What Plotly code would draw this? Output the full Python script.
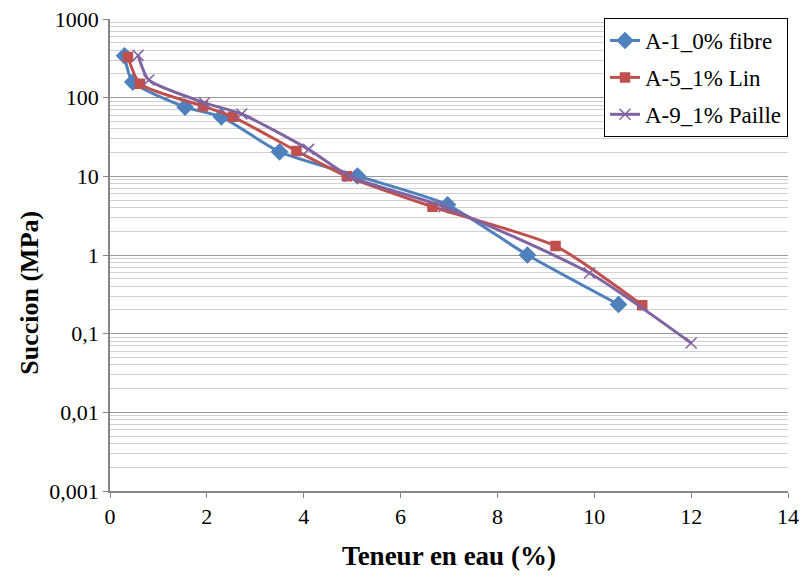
import plotly.graph_objects as go

# Teneur en eau (%) / Succion (MPa)
a1_x = [0.30, 0.47, 1.55, 2.30, 3.50, 5.11, 6.97, 8.62, 10.50]
a1_y = [340, 158, 76, 57, 20.5, 10.1, 4.35, 1.0, 0.235]

a5_x = [0.37, 0.62, 1.92, 2.54, 3.85, 4.89, 6.66, 9.20, 10.99]
a5_y = [330, 150, 78, 57, 21, 10, 4.1, 1.3, 0.23]

a9_x = [0.58, 0.80, 1.95, 2.72, 4.10, 4.95, 6.90, 9.90, 12.00]
a9_y = [345, 168, 86, 62, 22, 10, 4.1, 0.59, 0.076]

y_ticks = [0.001, 0.01, 0.1, 1, 10, 100, 1000]
y_labels = ["0,001", "0,01", "0,1", "1", "10", "100", "1000"]

series = [
    ("A-1_0% fibre", a1_x, a1_y, "#4F81BD", "diamond", 12),
    ("A-5_1% Lin", a5_x, a5_y, "#C0504D", "square", 9),
    ("A-9_1% Paille", a9_x, a9_y, "#8064A2", "x-thin-open", 11),
]

fig = go.Figure()
for name, x, y, col, sym, sz in series:
    fig.add_trace(go.Scatter(
        x=x, y=y, name=name, mode="lines+markers", legendgroup=name,
        line=dict(color=col, width=3, shape="spline", smoothing=0.6),
        marker=dict(symbol=sym, size=sz, color=col,
                    line=dict(color=col, width=1.5)),
    ))

font = "Liberation Serif"
tickfont = dict(family=font, size=22, color="black")
fig.update_layout(
    width=804, height=581,
    margin=dict(l=110, r=16, t=19, b=90),
    paper_bgcolor="white", plot_bgcolor="white",
    font=dict(family=font, size=22, color="black"),
    showlegend=True,
    legend=dict(x=1, y=1.002, xanchor="right", yanchor="top",
                bordercolor="black", borderwidth=1, bgcolor="white",
                font=dict(family=font, size=23), tracegroupgap=4),
    # y title placed as annotation, sits a bit below the axis centre
    annotations=[dict(text="<b>Succion (MPa)</b>", textangle=-90,
                      xref="paper", yref="paper", x=-0.118, y=0.42,
                      xanchor="center", yanchor="middle",
                      showarrow=False, font=dict(family=font, size=26))],
)
fig.update_xaxes(
    range=[0, 14], dtick=2, showgrid=False, automargin=False,
    showline=True, linecolor="#868686", linewidth=1.5, zeroline=False,
    ticks="outside", tickcolor="#868686", ticklen=5, tickfont=tickfont,
    title=dict(text="<b>Teneur en eau (%)</b>", font=dict(family=font, size=27), standoff=18),
)
fig.update_yaxes(
    type="log", range=[-3, 3], tickvals=y_ticks, ticktext=y_labels,
    showgrid=True, gridcolor="#9a9a9a", gridwidth=1, automargin=False,
    minor=dict(dtick="D1", showgrid=True, gridcolor="#d0d0d0", gridwidth=1),
    showline=True, linecolor="#868686", linewidth=1.5, zeroline=False,
    ticks="outside", tickcolor="#868686", ticklen=5, tickfont=tickfont,
)

fig.write_html("out.html", config={"displayModeBar": False},
               post_script="document.body.style.margin='0';")
